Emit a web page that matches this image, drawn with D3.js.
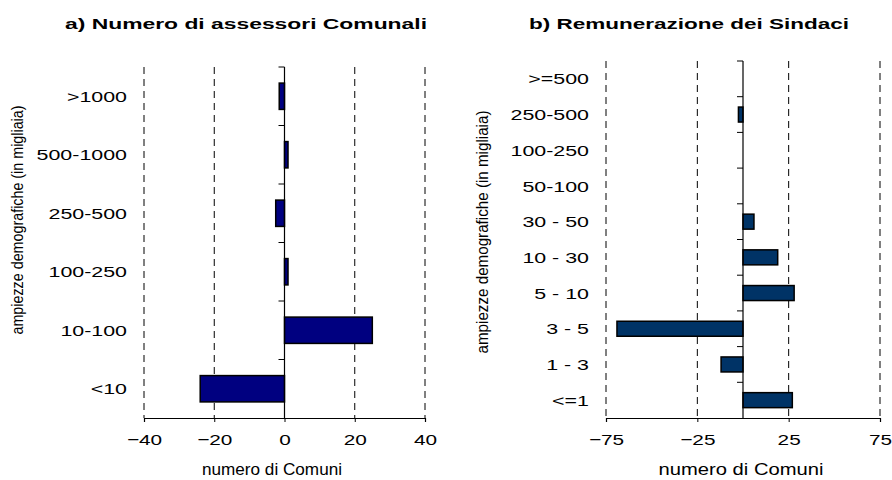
<!DOCTYPE html>
<html>
<head>
<meta charset="utf-8">
<script src="https://cdn.jsdelivr.net/npm/d3@7"></script>
<style>
  body { margin: 0; background: #fff; }
  svg { display: block; font-family: "Liberation Sans", Arial, sans-serif; }
</style>
</head>
<body>
<svg id="chart" width="892" height="480"></svg>
<script>
// Panel a: change in number of municipal assessors by population class
const catsA = [">1000", "500-1000", "250-500", "100-250", "10-100", "<10"];
const valsA = [-1.5, 1, -2.5, 1, 25, -24];
const ticksA = [-40, -20, 0, 20, 40];

// Panel b: change in mayors' remuneration by population class
const catsB = [">=500", "250-500", "100-250", "50-100", "30 - 50", "10 - 30", "5 - 10", "3 - 5", "1 - 3", "<=1"];
const valsB = [0, -2.5, 0, 0, 6, 19, 28, -69, -12, 27];
const ticksB = [-75, -25, 25, 75];

const yTitle = "ampiezze demografiche (in migliaia)";
const xTitle = "numero di Comuni";

const svg = d3.select("#chart");

// Set a text run's drawn width: a factor of its natural length, or a fixed pixel width,
// then place it by its anchor.
function stretch(text, size, anchor) {
  text.attr("text-anchor", "start");
  text.each(function () {
    const el = d3.select(this);
    const L = this.getComputedTextLength();
    const W = size.px != null ? size.px : L * size.factor;
    const x = +el.attr("x") || 0;
    el.attr("textLength", W).attr("lengthAdjust", "spacingAndGlyphs");
    if (anchor === "end") el.attr("x", x - W);
    else if (anchor === "middle") el.attr("x", x - W / 2);
  });
  return text;
}

function panel(opt) {
  const g = svg.append("g");
  const x = d3.scaleLinear().domain(opt.domain).range(opt.xRange);
  const y = d3.scaleBand().domain(opt.cats).range(opt.yRange)
    .paddingInner(opt.pad).paddingOuter(opt.pad / 2);
  const [y0, y1] = opt.yRange;
  const x0 = x(0);

  // dashed vertical gridlines
  g.selectAll("line.grid").data(opt.ticks.filter(t => t !== 0)).join("line")
    .attr("class", "grid")
    .attr("x1", d => x(d)).attr("x2", d => x(d))
    .attr("y1", y0).attr("y2", y1)
    .attr("stroke", "#000").attr("stroke-width", 1)
    .attr("stroke-dasharray", "7,5");

  // bars
  g.selectAll("rect.bar").data(opt.cats.map((c, i) => ({ c, v: opt.vals[i] })).filter(d => d.v !== 0))
    .join("rect")
    .attr("class", "bar")
    .attr("x", d => x(Math.min(0, d.v)))
    .attr("width", d => Math.abs(x(d.v) - x0))
    .attr("y", d => y(d.c))
    .attr("height", y.bandwidth())
    .attr("fill", opt.color)
    .attr("stroke", "#000").attr("stroke-width", 1.5);

  // zero line with category tick marks pointing left
  g.append("line").attr("x1", x0).attr("x2", x0).attr("y1", y0).attr("y2", y1)
    .attr("stroke", "#000").attr("stroke-width", 1.2);
  const bounds = d3.range(opt.cats.length).map(i => y0 + i * y.step());
  g.selectAll("line.ytick").data(bounds).join("line")
    .attr("class", "ytick")
    .attr("x1", x0 - 6).attr("x2", x0)
    .attr("y1", d => d).attr("y2", d => d)
    .attr("stroke", "#000").attr("stroke-width", 1);

  // category labels
  const cat = g.selectAll("text.cat").data(opt.cats).join("text")
    .attr("class", "cat")
    .attr("x", opt.labelX).attr("y", d => y(d) + y.bandwidth() / 2)
    .attr("dy", "0.36em")
    .attr("font-size", 15.5)
    .text(d => d);
  stretch(cat, { factor: 1.38 }, "end");

  // bottom axis
  const axis = d3.axisBottom(x).tickValues(opt.ticks).tickSize(4).tickFormat(d3.format("d"));
  const ax = g.append("g").attr("transform", `translate(0,${y1})`).call(axis);
  ax.select(".domain").attr("stroke", "#000").attr("stroke-width", 1.2);
  ax.selectAll(".tick line").attr("stroke", "#000");
  const tl = ax.selectAll("text").attr("font-size", 15.5)
    .attr("font-family", "Liberation Sans, Arial, sans-serif")
    .attr("fill", "#000").attr("y", 16).attr("x", 0);
  stretch(tl, { factor: 1.34 }, "middle");

  // titles
  const t = g.append("text").attr("x", opt.titleX).attr("y", 29)
    .attr("font-weight", "bold").attr("font-size", 15.5)
    .text(opt.title);
  stretch(t, { px: opt.titleW }, "middle");
  const xt = g.append("text").attr("x", opt.xTitleX).attr("y", 475)
    .attr("font-size", 16.5)
    .text(xTitle);
  stretch(xt, { px: opt.xTitleW }, "middle");
  const yt = g.append("text")
    .attr("transform", `translate(${opt.yTitleX},${opt.yTitleY}) rotate(-90)`)
    .attr("x", 0).attr("font-size", 16.5)
    .attr("dy", "0.35em")
    .text(yTitle);
  stretch(yt, { px: opt.yTitleW }, "middle");
}

panel({
  cats: catsA, vals: valsA, ticks: ticksA, domain: [-40, 40],
  xRange: [144, 425], yRange: [67, 418], pad: 0.55,
  color: "#000080", labelX: 127,
  title: "a) Numero di assessori Comunali", titleX: 246, titleW: 362,
  xTitleX: 272, xTitleW: 140,
  yTitleX: 17, yTitleY: 220, yTitleW: 229
});

panel({
  cats: catsB, vals: valsB, ticks: ticksB, domain: [-75, 75],
  xRange: [606, 880], yRange: [61, 418], pad: 0.58,
  color: "#003366", labelX: 589,
  title: "b) Remunerazione dei Sindaci", titleX: 689, titleW: 320,
  xTitleX: 741, xTitleW: 165,
  yTitleX: 482, yTitleY: 232, yTitleW: 243
});
</script>
</body>
</html>
